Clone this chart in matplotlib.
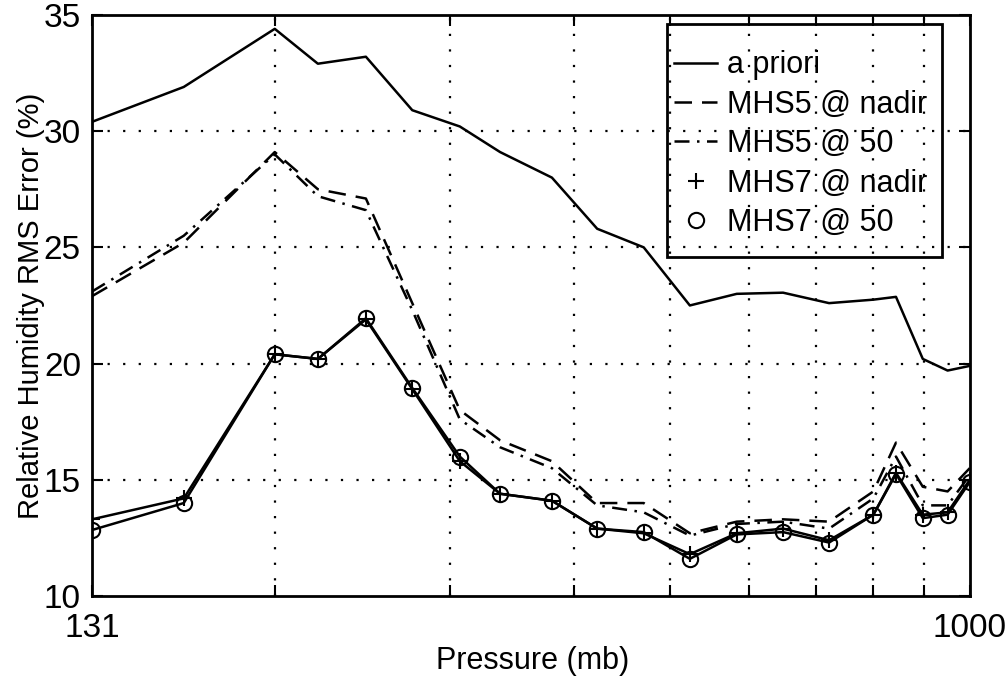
import matplotlib
matplotlib.use("Agg")
import matplotlib.pyplot as plt
from matplotlib.lines import Line2D
from matplotlib.patches import Rectangle
from matplotlib.ticker import FixedLocator

plt.rcParams["font.family"] = ["Liberation Sans", "DejaVu Sans"]

# pressure levels (mb) and RMS errors (%)
pressure = [131, 162, 200, 221, 247, 275, 307, 337, 380, 422,
            470, 523, 583, 649, 722, 800, 843, 897, 950, 1000]
a_priori = [30.4, 31.9, 34.4, 32.9, 33.2, 30.9, 30.2, 29.1, 28.0, 25.8,
            25.0, 22.5, 23.0, 23.05, 22.6, 22.75, 22.87, 20.2, 19.7, 19.9]
mhs5_nadir = [22.9, 25.2, 29.1, 27.5, 27.1, 22.6, 18.0, 16.7, 15.8, 14.0,
              14.0, 12.7, 13.2, 13.3, 13.2, 14.5, 16.6, 14.7, 14.5, 15.5]
mhs5_50 = [23.1, 25.5, 29.0, 27.2, 26.6, 22.3, 17.6, 16.4, 15.5, 13.9,
           13.6, 12.6, 13.1, 13.2, 12.9, 14.2, 16.0, 13.9, 13.9, 15.2]
mhs7_nadir = [13.3, 14.2, 20.4, 20.2, 21.9, 18.9, 15.8, 14.4, 14.1, 12.9,
              12.7, 11.8, 12.7, 12.9, 12.4, 13.5, 15.3, 13.5, 13.6, 15.0]
mhs7_50 = [12.84, 14.0, 20.4, 20.2, 21.95, 18.95, 16.0, 14.4, 14.1, 12.9,
           12.75, 11.6, 12.65, 12.75, 12.3, 13.5, 15.25, 13.35, 13.5, 14.9]

grid_x = [200, 300, 400, 500, 600, 700, 800, 900]
y_ticks = [10, 15, 20, 25, 30, 35]

fig = plt.figure(figsize=(10.07, 6.77), dpi=100)
ax = fig.add_axes([0.0914, 0.1196, 0.8716, 0.8584])

lw = 1.8
dash = (0, (7, 4))
dashdot = (0, (6, 3, 1, 3))
ax.plot(pressure, a_priori, color="black", lw=lw, ls="-")
ax.plot(pressure, mhs5_nadir, color="black", lw=lw, ls=dash)
ax.plot(pressure, mhs5_50, color="black", lw=lw, ls=dashdot)
ax.plot(pressure, mhs7_nadir, color="black", lw=lw, ls="-",
        marker="+", ms=11, mew=1.5)
ax.plot(pressure, mhs7_50, color="black", lw=lw, ls="-",
        marker="o", ms=11, mew=1.5, mfc="none")

ax.set_xscale("log")
ax.set_xlim(131, 1000)
ax.set_ylim(10, 35)

ax.xaxis.set_major_locator(FixedLocator([131, 1000]))
ax.xaxis.set_minor_locator(FixedLocator(grid_x))
ax.xaxis.set_major_formatter(plt.FixedFormatter(["131", "1000"]))
ax.xaxis.set_minor_formatter(plt.NullFormatter())
ax.set_yticks(y_ticks)

ax.tick_params(axis="both", which="both", direction="in", top=True, right=True,
               labelsize=24, width=1.5, color="black")
ax.tick_params(axis="both", which="major", length=8)
ax.tick_params(axis="x", which="minor", length=8)
ax.tick_params(axis="x", pad=12)
ax.tick_params(axis="y", pad=8)

for x in grid_x:
    ax.axvline(x, color="black", lw=1.6, ls=(0, (1, 6)), zorder=0)
for y in y_ticks[1:-1]:
    ax.axhline(y, color="black", lw=1.6, ls=(0, (1, 6)), zorder=0)

for s in ax.spines.values():
    s.set_linewidth(2)

ax.set_xlabel("Pressure (mb)", fontsize=22, va="center")
ax.xaxis.set_label_coords(0.502, -0.112)
ax.set_ylabel("Relative Humidity RMS Error (%)", fontsize=21, va="center")
ax.yaxis.set_label_coords(-0.069, 0.5)

handles = [
    Line2D([], [], color="black", lw=lw, ls="-"),
    Line2D([], [], color="black", lw=lw, ls=dash),
    Line2D([], [], color="black", lw=lw, ls=dashdot),
    Line2D([], [], color="black", ls="none", marker="+", ms=11, mew=1.5),
    Line2D([], [], color="black", ls="none", marker="o", ms=11, mew=1.5, mfc="none"),
]
labels = ["a priori", "MHS5 @ nadir", "MHS5 @ 50", "MHS7 @ nadir", "MHS7 @ 50"]

# legend box like the original: fixed frame, text may spill over its right edge
ax.add_patch(Rectangle((0.655, 0.5835), 0.313, 0.401, transform=ax.transAxes,
                       fill=False, lw=2, edgecolor="black", zorder=5))
ax.legend(handles, labels, loc="upper left", bbox_to_anchor=(0.653, 0.955),
          fontsize=22, frameon=False, handlelength=1.4, handletextpad=0.33,
          labelspacing=0.31, borderpad=0.3, borderaxespad=0.0)

fig.savefig("out.png", dpi=100)
